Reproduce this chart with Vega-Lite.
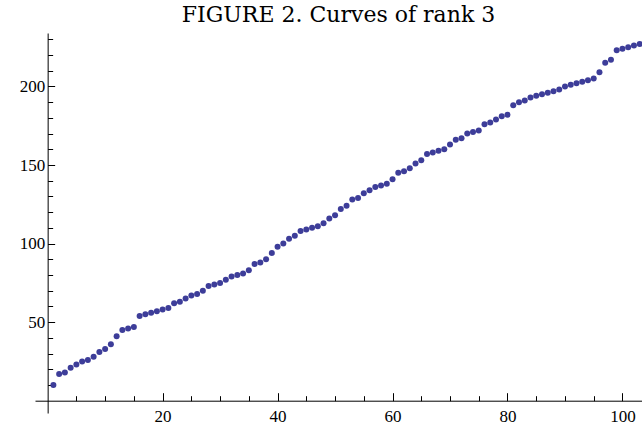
{
  "$schema": "https://vega.github.io/schema/vega-lite/v6.json",
  "width": 607,
  "height": 380,
  "autosize": {"type": "none"},
  "padding": {"left": 35, "top": 33, "right": 0, "bottom": 18},
  "background": "white",
  "config": {
    "view": {"stroke": null},
    "axis": {
      "grid": false,
      "domainColor": "black",
      "tickColor": "black",
      "labelColor": "black",
      "labelFont": "Liberation Serif",
      "labelFontSize": 17,
      "domainWidth": 1,
      "tickWidth": 1
    }
  },
  "title": {
    "text": "FIGURE 2.  Curves of rank 3",
    "font": "DejaVu Serif",
    "fontSize": 22,
    "fontWeight": "normal",
    "anchor": "middle",
    "offset": 6,
    "color": "black"
  },
  "data": {
    "values": [
      {"x": 1, "y": 10}, {"x": 2, "y": 17}, {"x": 3, "y": 18}, {"x": 4, "y": 21}, {"x": 5, "y": 23},
      {"x": 6, "y": 25}, {"x": 7, "y": 26}, {"x": 8, "y": 28}, {"x": 9, "y": 31}, {"x": 10, "y": 33},
      {"x": 11, "y": 36}, {"x": 12, "y": 41}, {"x": 13, "y": 45}, {"x": 14, "y": 46}, {"x": 15, "y": 47},
      {"x": 16, "y": 54}, {"x": 17, "y": 55}, {"x": 18, "y": 56}, {"x": 19, "y": 57}, {"x": 20, "y": 58},
      {"x": 21, "y": 59}, {"x": 22, "y": 62}, {"x": 23, "y": 63}, {"x": 24, "y": 65}, {"x": 25, "y": 67},
      {"x": 26, "y": 68}, {"x": 27, "y": 70}, {"x": 28, "y": 73}, {"x": 29, "y": 74}, {"x": 30, "y": 75},
      {"x": 31, "y": 77}, {"x": 32, "y": 79}, {"x": 33, "y": 80}, {"x": 34, "y": 81}, {"x": 35, "y": 83},
      {"x": 36, "y": 87}, {"x": 37, "y": 88}, {"x": 38, "y": 90}, {"x": 39, "y": 94}, {"x": 40, "y": 98},
      {"x": 41, "y": 100}, {"x": 42, "y": 103}, {"x": 43, "y": 105}, {"x": 44, "y": 108}, {"x": 45, "y": 109},
      {"x": 46, "y": 110}, {"x": 47, "y": 111}, {"x": 48, "y": 113}, {"x": 49, "y": 116}, {"x": 50, "y": 118},
      {"x": 51, "y": 122}, {"x": 52, "y": 124}, {"x": 53, "y": 128}, {"x": 54, "y": 129}, {"x": 55, "y": 132},
      {"x": 56, "y": 134}, {"x": 57, "y": 136}, {"x": 58, "y": 137}, {"x": 59, "y": 138}, {"x": 60, "y": 141},
      {"x": 61, "y": 145}, {"x": 62, "y": 146}, {"x": 63, "y": 148}, {"x": 64, "y": 151}, {"x": 65, "y": 153},
      {"x": 66, "y": 157}, {"x": 67, "y": 158}, {"x": 68, "y": 159}, {"x": 69, "y": 160}, {"x": 70, "y": 163},
      {"x": 71, "y": 166}, {"x": 72, "y": 167}, {"x": 73, "y": 170}, {"x": 74, "y": 171}, {"x": 75, "y": 172},
      {"x": 76, "y": 176}, {"x": 77, "y": 177}, {"x": 78, "y": 179}, {"x": 79, "y": 181}, {"x": 80, "y": 182},
      {"x": 81, "y": 188}, {"x": 82, "y": 190}, {"x": 83, "y": 191}, {"x": 84, "y": 193}, {"x": 85, "y": 194},
      {"x": 86, "y": 195}, {"x": 87, "y": 196}, {"x": 88, "y": 197}, {"x": 89, "y": 198}, {"x": 90, "y": 200},
      {"x": 91, "y": 201}, {"x": 92, "y": 202}, {"x": 93, "y": 203}, {"x": 94, "y": 204}, {"x": 95, "y": 205},
      {"x": 96, "y": 209}, {"x": 97, "y": 215}, {"x": 98, "y": 217}, {"x": 99, "y": 223}, {"x": 100, "y": 224},
      {"x": 101, "y": 225}, {"x": 102, "y": 226}, {"x": 103, "y": 227}
    ]
  },
  "layer": [
    {
      "mark": {"type": "circle", "opacity": 0},
      "encoding": {
        "x": {
          "field": "x", "type": "quantitative",
          "scale": {"domain": [-2.2, 103.4], "nice": false, "zero": false},
          "axis": {"orient": "bottom", "values": [5, 10, 15, 25, 30, 35, 45, 50, 55, 65, 70, 75, 85, 90, 95], "labels": false, "domain": false, "tickSize": -5, "offset": -12.3, "title": null}
        },
        "y": {
          "field": "y", "type": "quantitative",
          "scale": {"domain": [-7.8, 234], "nice": false, "zero": false},
          "axis": {"orient": "left", "values": [10, 20, 30, 40, 60, 70, 80, 90, 110, 120, 130, 140, 160, 170, 180, 190, 210, 220, 230], "labels": false, "domain": false, "tickSize": -5, "offset": -12.65, "title": null}
        }
      }
    },
    {
      "mark": {"type": "circle", "size": 36, "color": "#3d3d99", "opacity": 1},
      "encoding": {
        "x": {
          "field": "x", "type": "quantitative",
          "scale": {"domain": [-2.2, 103.4], "nice": false, "zero": false},
          "axis": {"orient": "bottom", "values": [20, 40, 60, 80, 100], "tickSize": -8, "labelPadding": 16, "offset": -12.3, "title": null}
        },
        "y": {
          "field": "y", "type": "quantitative",
          "scale": {"domain": [-7.8, 234], "nice": false, "zero": false},
          "axis": {"orient": "left", "values": [50, 100, 150, 200], "tickSize": -7, "labelPadding": 10, "offset": -12.65, "title": null}
        }
      }
    }
  ],
  "resolve": {"axis": {"x": "independent", "y": "independent"}}
}
